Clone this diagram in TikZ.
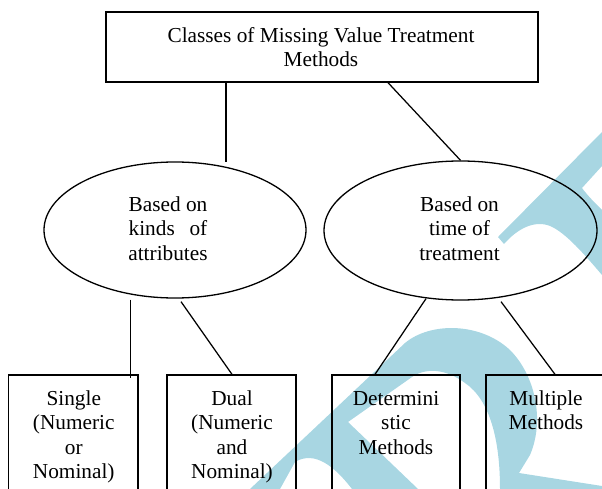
\documentclass[tikz,border=0pt]{standalone}
\usepackage{fontspec}
\setmainfont{Liberation Serif}
\usetikzlibrary{shapes.geometric,calc}
\definecolor{wm}{RGB}{168,214,226}
\begin{document}
\begin{tikzpicture}[x=1pt,y=-1pt,
  outline/.style={draw=black,line width=1.3pt,inner sep=0pt},
  rectbox/.style={outline,rectangle},
  ellbox/.style={outline,ellipse},
  conn/.style={draw=black,line width=1.25pt},
  txt/.style={inner sep=0pt,align=center,anchor=north,
    font=\fontsize{21.3}{24.5}\selectfont}]
\useasboundingbox (0,0) rectangle (602,489);
\clip (0,0) rectangle (602,489);
% watermark
\fill[wm] (602,132) -- (498,237) -- (504,244)
  .. controls (518,228) and (535,220) .. (550,226)
  .. controls (565,232) and (585,255) .. (602,275)
  -- (602,210) .. controls (594,202) and (588,196) .. (582,188)
  -- (602,166) -- cycle;
\fill[wm] (250,489) -- (405,343)
  .. controls (430,322) and (480,322) .. (510,350)
  .. controls (535,375) and (545,420) .. (530,455)
  -- (519,473) -- (602,486) -- (602,489) -- (500,489)
  .. controls (500,440) and (490,400) .. (465,383)
  .. controls (445,368) and (425,368) .. (412,377)
  -- (348,422) -- (418,489) -- (352,489)
  .. controls (335,467) and (315,450) .. (295,462)
  -- (280,489) -- cycle;
% shapes
\node[rectbox,minimum width=432pt,minimum height=70pt] (top) at (322,47) {};
\node[ellbox,minimum width=262pt,minimum height=136pt] (lell) at (175,230) {};
\node[ellbox,minimum width=273pt,minimum height=139pt] (rell) at (460.5,230.5) {};
\node[rectbox,minimum width=129.5pt,minimum height=130pt] (b1) at (73.25,440) {};
\node[rectbox,minimum width=129pt,minimum height=130pt] (b2) at (231.5,440) {};
\node[rectbox,minimum width=128pt,minimum height=130pt] (b3) at (396,440) {};
\node[rectbox,minimum width=129pt,minimum height=130pt] (b4) at (550.5,440) {};
% texts
\node[txt] (ttop) at (321,24.85) {\strut Classes of Missing Value Treatment\\Methods};
\node[txt] (tl) at (168,193.85) {\strut Based on\\\hbox to 78.7pt{kinds\hfill of}\\attributes};
\node[txt] (tr) at (459.5,193.85) {\strut Based on\\time of\\treatment};
\node[txt] (t1) at (73.75,387.85) {\strut Single\\(Numeric\\or\\Nominal)};
\node[txt] (t2) at (232,387.85) {\strut Dual\\(Numeric\\and\\Nominal)};
\node[txt] (t3) at (396,387.85) {\strut Determini\\stic\\Methods};
\node[txt] (t4) at (546,387.85) {\strut Multiple\\Methods};
% connectors
\coordinate (c1) at (226,162);
\draw[conn] (top.south -| c1) -- (c1);
\draw[conn] ($(top.south)+(66,0)$) -- (rell.north);
\draw[conn] ($(lell.south)+(-44.5,1)$) -- ($(b1.north)+(57.25,4)$);
\draw[conn] ($(lell.south)+(6,3)$) -- ($(b2.north)+(0.5,0)$);
\draw[conn] ($(rell.south)+(-34.5,-2)$) -- ($(b3.north)+(-21,0)$);
\draw[conn] ($(rell.south)+(40.5,1)$) -- ($(b4.north)+(4.5,0)$);
\end{tikzpicture}
\end{document}
